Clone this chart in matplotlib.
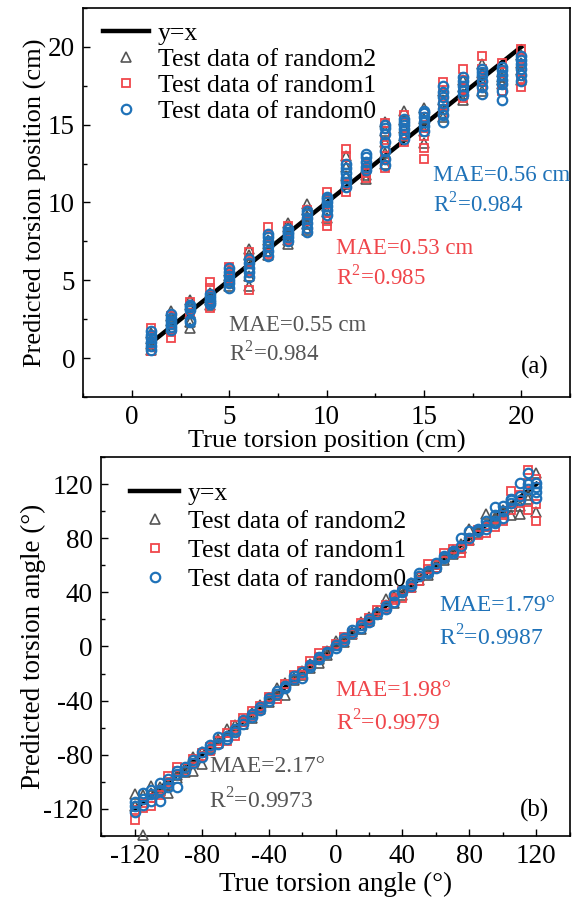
import matplotlib
matplotlib.use('Agg')
import matplotlib.pyplot as plt
from matplotlib.ticker import MultipleLocator

plt.rcParams['font.family'] = ['Liberation Serif', 'DejaVu Serif']
plt.rcParams['mathtext.fontset'] = 'custom'
plt.rcParams['mathtext.rm'] = 'Liberation Serif'
plt.rcParams['axes.unicode_minus'] = False

GRAY = '#555555'
RED = '#f0464b'
BLUE = '#1f72b8'

# ---- panel (a): torsion position ----
positions = list(range(1, 21))

pos_random2 = [
    [0.5, 0.9, 1.2, 1.6], [1.9, 2.4, 2.7, 3.0], [1.9, 2.3, 2.9, 3.4, 3.7],
    [3.4, 3.7, 3.9, 4.2], [4.6, 4.9, 5.3, 5.6], [4.6, 5.3, 6.1, 6.6, 7.0],
    [6.6, 6.9, 7.3, 7.6], [7.3, 7.6, 8.0, 8.4, 8.7], [8.2, 8.6, 9.1, 9.5, 9.9],
    [9.0, 9.4, 9.8, 10.2], [11.2, 11.7, 12.3, 13.0], [11.5, 11.8, 12.2],
    [12.5, 13.2, 13.9, 14.6, 15.2], [14.3, 14.8, 15.3, 15.9], [13.8, 14.6, 15.4, 16.1],
    [15.5, 16.0, 16.6, 17.2], [16.6, 17.0, 17.4, 17.9], [17.2, 17.8, 18.3, 18.9],
    [17.6, 17.9, 18.1, 18.4], [17.9, 18.5, 19.0, 19.5],
]
pos_random1 = [
    [0.45, 0.9, 1.4, 1.9], [1.3, 1.7, 2.3, 2.7], [2.85, 3.1, 3.4, 3.6],
    [3.2, 3.6, 4.0, 4.5, 4.9], [5.1, 5.4, 5.65, 5.85], [4.35, 5.6, 6.2, 6.8],
    [6.7, 7.2, 7.8, 8.4], [7.6, 8.0, 8.5], [8.3, 8.8, 9.5],
    [8.5, 8.8, 9.4, 10.3, 10.7], [10.7, 11.2, 12.4, 13.0, 13.45], [11.6, 11.9, 12.2, 12.5],
    [12.2, 12.8, 13.5, 14.2, 15.1], [13.9, 14.3, 14.8, 15.2, 15.6], [12.8, 13.5, 14.3, 14.9, 15.5],
    [15.6, 16.3, 17.0, 17.75], [16.7, 17.3, 17.9, 18.6], [17.4, 17.9, 18.6, 19.4],
    [17.2, 17.8, 18.4, 19.0], [17.4, 17.9, 18.5, 19.2, 19.9],
]
pos_random0 = [
    [0.5, 0.8, 1.0, 1.3, 1.5, 1.75], [1.8, 2.0, 2.2, 2.4, 2.6, 2.8], [2.3, 2.45, 3.1, 3.25, 3.4],
    [3.45, 3.6, 3.75, 3.9, 4.1], [4.5, 4.8, 5.0, 5.25, 5.5, 5.8], [5.2, 5.5, 5.8, 6.1, 6.35],
    [6.55, 6.9, 7.2, 7.5, 7.75, 8.0], [7.55, 7.75, 7.95, 8.1, 8.3], [8.1, 8.35, 8.7, 9.0, 9.25, 9.45],
    [9.2, 9.5, 9.75, 10.0, 10.2, 10.35], [11.0, 11.3, 11.6, 11.9, 12.2, 12.5], [12.1, 12.3, 12.6, 12.9, 13.1],
    [12.4, 12.8, 13.3, 13.9, 14.4, 14.8, 15.0], [14.1, 14.4, 14.7, 15.0, 15.2, 15.4],
    [14.6, 14.9, 15.2, 15.5, 15.75, 15.9], [15.2, 15.6, 16.0, 16.4, 16.8, 17.1, 17.5],
    [16.9, 17.2, 17.5, 17.8, 18.1], [17.0, 17.4, 17.8, 18.2, 18.4, 18.6],
    [16.6, 17.2, 17.6, 17.9, 18.2, 18.5, 18.7], [17.8, 18.2, 18.6, 18.9, 19.15, 19.4],
]

# ---- panel (b): torsion angle ----
angles = [-120, -115, -110, -105, -100, -95, -90, -85, -80, -75, -70, -65, -60, -55, -50,
          -45, -40, -35, -30, -25, -20, -15, -10, -5, 0, 5, 10, 15, 20, 25, 30, 35, 40,
          45, 50, 55, 60, 65, 70, 75, 80, 85, 90, 95, 100, 105, 110, 115, 120]

ang_random2 = [
    [-109, -118], [-139, -110], [-103, -108], [-104, -107], [-108, -102], [-95, -97],
    [-90, -93], [-92, -82], [-87, -78], [-76, -74], [-68, -71], [-61, -66], [-58, -62],
    [-55, -57], [-49, -53], [-43, -46], [-41, -38], [-31, -36], [-36, -27], [-25, -23],
    [-21, -18], [-13, -16], [-12, -9], [-3, -6], [4, 1], [3, 6], [9, 11], [18, 13],
    [22, 19], [24, 26], [35, 31], [32, 37], [41, 38], [44, 47], [49, 52], [53, 55],
    [61, 59], [64, 66], [68, 71], [76, 73], [87, 79], [84, 86], [98, 89], [94, 96],
    [99, 101], [97, 104], [98, 104], [109, 112], [128, 99],
]
ang_random1 = [
    [-128, -121], [-119, -116], [-117.5, -112], [-106, -110], [-96, -100], [-89, -92],
    [-90, -92], [-86, -83], [-81, -79], [-77, -74], [-70, -72], [-70, -64], [-66, -58],
    [-53, -56], [-48, -51], [-44, -46], [-39, -37], [-39, -35], [-28, -30], [-21, -24],
    [-18, -21], [-11, -14], [-5, -8], [-3, -5], [0, 2], [5, 7], [10, 9], [17, 15],
    [19, 21], [27, 25], [28, 31], [36, 34], [36, 41], [45, 43], [48, 51], [61, 57],
    [58, 60], [69, 66], [72, 70], [69, 72], [78, 80], [82, 86], [84, 88], [88, 91],
    [93, 97], [115, 101], [112, 106], [130, 101, 121], [93, 124, 105],
]
ang_random0 = [
    [-122, -115, -118], [-108, -113, -117], [-109, -114, -106], [-101, -114, -106],
    [-98, -104, -101], [-94, -104, -92], [-92, -89], [-84, -86], [-78, -82], [-73, -76],
    [-67, -72], [-68, -66], [-61, -63], [-54, -57], [-50, -52], [-45, -47], [-40, -38],
    [-33, -35], [-31, -29], [-24, -22], [-19, -23], [-15, -14], [-9.5, -8], [-5, -4],
    [-1, 1], [6, 4], [12, 10], [14, 16], [20, 18], [25, 24], [30, 28], [33, 38],
    [40, 42], [47, 45], [52, 54], [56, 54], [62, 58], [67, 65], [70.5, 69], [74, 80],
    [85, 80], [87, 85], [93, 87, 90], [103, 97, 93, 91], [100, 95, 104], [109, 106, 108],
    [121, 111, 108], [128, 116, 120], [121, 114, 110, 118],
]


def flatten(xs, groups):
    px, py = [], []
    for x, g in zip(xs, groups):
        for v in g:
            px.append(x)
            py.append(v)
    return px, py


def draw_panel(ax, xs, r2, r1, r0, ms):
    ax.plot([xs[0], xs[-1]], [xs[0], xs[-1]], color='black', lw=3.2, zorder=2, label='y=x')
    x2, y2 = flatten(xs, r2)
    x1, y1 = flatten(xs, r1)
    x0, y0 = flatten(xs, r0)
    ax.plot(x2, y2, ls='none', marker='^', ms=ms, mfc='none', mec=GRAY, mew=1.2,
            zorder=3, clip_on=False, label='Test data of random2')
    ax.plot(x1, y1, ls='none', marker='s', ms=ms - 0.8, mfc='none', mec=RED, mew=1.3,
            zorder=4, clip_on=False, label='Test data of random1')
    ax.plot(x0, y0, ls='none', marker='o', ms=ms, mfc='none', mec=BLUE, mew=1.6,
            zorder=5, clip_on=False, label='Test data of random0')


def style_axes(ax):
    ax.tick_params(which='both', direction='in', top=False, right=False, labelsize=19.5, pad=6)
    ax.tick_params(which='major', length=5, width=1)
    ax.tick_params(which='minor', length=3, width=1)
    for s in ax.spines.values():
        s.set_linewidth(1.2)


fig = plt.figure(figsize=(5.75, 8.99), dpi=100)

# panel (a)
ax1 = fig.add_axes([0.145, 0.5585, 0.846, 0.4325])
draw_panel(ax1, positions, pos_random2, pos_random1, pos_random0, 6.8)
ax1.set_xlim(-2.5, 22.5)
ax1.set_ylim(-2.5, 22.5)
ax1.xaxis.set_major_locator(MultipleLocator(5))
ax1.xaxis.set_minor_locator(MultipleLocator(2.5))
ax1.yaxis.set_major_locator(MultipleLocator(5))
ax1.yaxis.set_minor_locator(MultipleLocator(2.5))
style_axes(ax1)
ax1.set_xlabel('True torsion position (cm)', fontsize=19, labelpad=0)
ax1.set_ylabel('Predicted torsion position (cm)', fontsize=19, labelpad=1)
ax1.legend(loc='upper left', bbox_to_anchor=(0.04, 0.965), frameon=False, fontsize=18.5,
           handlelength=1.8, handletextpad=0.35, labelspacing=0.12, borderpad=0, borderaxespad=0)
ax1.text(5.0, 2.1, 'MAE=0.55 cm', color=GRAY, fontsize=16.5, va='center')
ax1.text(5.0, 0.28, 'R$^2$=0.984', color=GRAY, fontsize=16.5, va='center')
ax1.text(10.5, 7.03, 'MAE=0.53 cm', color=RED, fontsize=16.5, va='center')
ax1.text(10.5, 5.2, 'R$^2$=0.985', color=RED, fontsize=16.5, va='center')
ax1.text(15.45, 11.75, 'MAE=0.56 cm', color=BLUE, fontsize=16.5, va='center')
ax1.text(15.45, 9.9, 'R$^2$=0.984', color=BLUE, fontsize=16.5, va='center')
ax1.text(21.4, -0.6, '(a)', fontsize=18, ha='right', va='center')

# panel (b)
ax2 = fig.add_axes([0.176, 0.0701, 0.815, 0.4216])
draw_panel(ax2, angles, ang_random2, ang_random1, ang_random0, 6.8)
ax2.set_xlim(-140, 140)
ax2.set_ylim(-140, 140)
ax2.xaxis.set_major_locator(MultipleLocator(40))
ax2.xaxis.set_minor_locator(MultipleLocator(20))
ax2.yaxis.set_major_locator(MultipleLocator(40))
ax2.yaxis.set_minor_locator(MultipleLocator(20))
style_axes(ax2)
ax2.set_xlabel('True torsion angle (°)', fontsize=19.5, labelpad=2)
ax2.set_ylabel('Predicted torsion angle (°)', fontsize=19.5, labelpad=-2)
ax2.legend(loc='upper left', bbox_to_anchor=(0.062, 0.935), frameon=False, fontsize=18.5,
           handlelength=1.9, handletextpad=0.35, labelspacing=0.22, borderpad=0, borderaxespad=0)
ax2.text(-75.4, -89, 'MAE=2.17°', color=GRAY, fontsize=17, va='center')
ax2.text(-75.4, -114, 'R$^2$=0.9973', color=GRAY, fontsize=17, va='center')
ax2.text(0.2, -32.7, 'MAE=1.98°', color=RED, fontsize=17, va='center')
ax2.text(0.2, -56.4, 'R$^2$=0.9979', color=RED, fontsize=17, va='center')
ax2.text(61.9, 30.2, 'MAE=1.79°', color=BLUE, fontsize=17, va='center')
ax2.text(61.9, 6.2, 'R$^2$=0.9987', color=BLUE, fontsize=17, va='center')
ax2.text(127.4, -121, '(b)', fontsize=18, ha='right', va='center')

fig.savefig('out.png', dpi=100)
